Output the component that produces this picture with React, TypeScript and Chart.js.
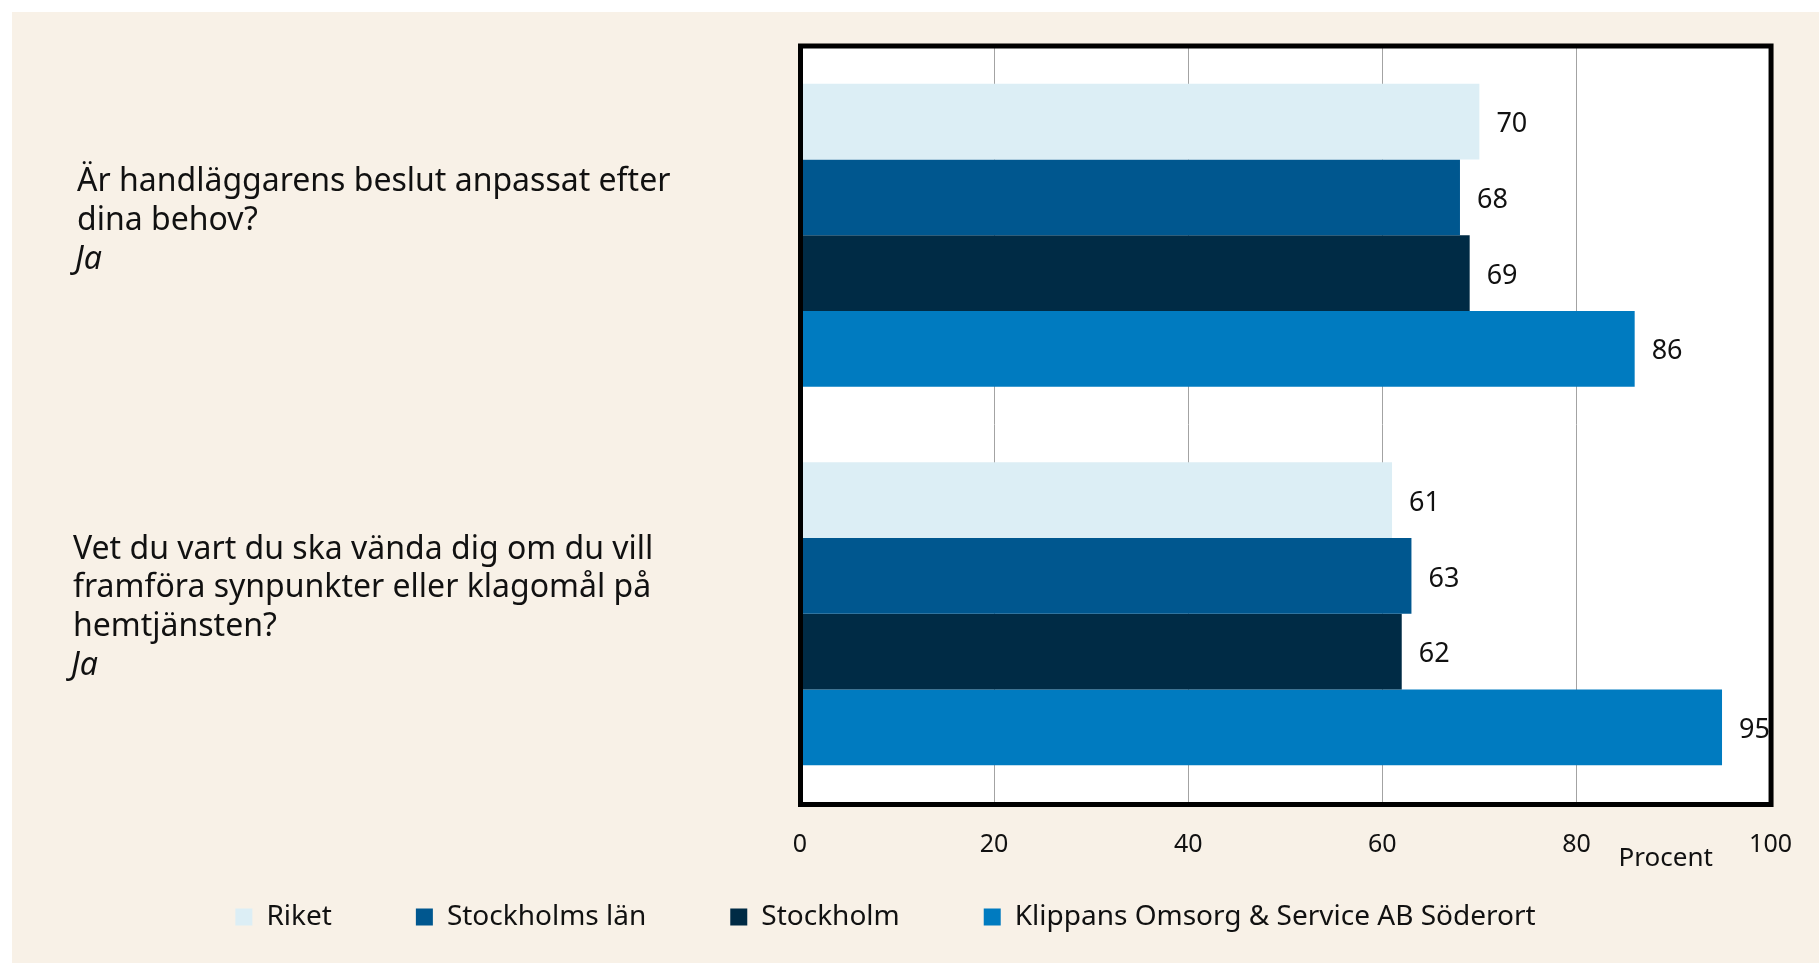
import React, { useEffect, useRef } from "react";
import { Chart, registerables } from "chart.js";

Chart.register(...registerables);

const categories = [
  ["Är handläggarens beslut anpassat efter", "dina behov?"],
  ["Vet du vart du ska vända dig om du vill", "framföra synpunkter eller klagomål på", "hemtjänsten?"],
];
const answerLabel = "Ja";
const seriesNames = ["Riket", "Stockholms län", "Stockholm", "Klippans Omsorg & Service AB Söderort"];
const riket = [70, 61];
const stockholmsLan = [68, 63];
const stockholm = [69, 62];
const klippans = [86, 95];
const seriesColors = ["#DCEEF5", "#00578F", "#002B45", "#007BC0"];
const xTicks = [0, 20, 40, 60, 80, 100];
const unitLabel = "Procent";

const FONT = "'Noto Sans', 'Open Sans', sans-serif";

export default function App() {
  const ref = useRef<HTMLCanvasElement | null>(null);

  useEffect(() => {
    const canvas = ref.current;
    if (!canvas) return;

    const bgPlugin = {
      id: "bg",
      beforeDraw(chart: any) {
        const { ctx, chartArea, width, height } = chart;
        ctx.save();
        ctx.fillStyle = "#ffffff";
        ctx.fillRect(0, 0, width, height);
        ctx.fillStyle = "#F8F1E7";
        ctx.fillRect(12, 12, width - 12, height - 12);
        ctx.fillStyle = "#ffffff";
        ctx.fillRect(chartArea.left, chartArea.top, chartArea.right - chartArea.left, chartArea.bottom - chartArea.top);
        ctx.restore();
      },
    };

    const legendShift = {
      id: "legendShift",
      afterLayout(chart: any) {
        const lg = chart.legend;
        if (lg) {
          const h = lg.bottom - lg.top;
          lg.top = 819;
          lg.bottom = 819 + h;
        }
      },
    };

    const overlayPlugin = {
      id: "overlay",
      afterDatasetsDraw(chart: any) {
        const { ctx, chartArea } = chart;
        ctx.save();
        // frame
        ctx.strokeStyle = "#000000";
        ctx.lineWidth = 5;
        ctx.strokeRect(chartArea.left + 0.5, chartArea.top, chartArea.right - chartArea.left, chartArea.bottom - chartArea.top + 1.5);

        // value labels
        ctx.fillStyle = "#111111";
        ctx.font = `27px ${FONT}`;
        ctx.textAlign = "left";
        ctx.textBaseline = "middle";
        chart.data.datasets.forEach((ds: any, di: number) => {
          const meta = chart.getDatasetMeta(di);
          meta.data.forEach((bar: any, i: number) => {
            ctx.fillText(String(ds.data[i]), bar.x + 17, bar.y + 3);
          });
        });

        // category labels
        const yScale = chart.scales.y;
        const lineH = 38.9;
        const offsets = [-14, -6];
        const lefts = [77, 73];
        categories.forEach((lines, i) => {
          const all = lines.length + 1;
          const center = yScale.getPixelForValue(i) + offsets[i];
          const top = center - (all * lineH) / 2 + lineH / 2;
          ctx.textAlign = "left";
          ctx.textBaseline = "middle";
          ctx.font = `32px ${FONT}`;
          lines.forEach((t, k) => {
            ctx.fillText(t, lefts[i], top + k * lineH);
          });
          ctx.font = `italic 32px ${FONT}`;
          ctx.fillText(answerLabel, lefts[i] - 2, top + lines.length * lineH);
        });

        // unit label
        const xScale = chart.scales.x;
        ctx.font = `26px ${FONT}`;
        ctx.textAlign = "center";
        ctx.fillText(unitLabel, xScale.getPixelForValue(89.2), chartArea.bottom + 56);
        ctx.restore();
      },
    };

    const datasets = [riket, stockholmsLan, stockholm, klippans].map((d, i) => ({
      label: seriesNames[i],
      data: d,
      backgroundColor: seriesColors[i],
      borderWidth: 0,
      categoryPercentage: 0.8,
      barPercentage: 1.0,
    }));

    const chart = new Chart(canvas, {
      type: "bar",
      data: {
        labels: categories.map((c) => c.join(" ")),
        datasets,
      },
      plugins: [bgPlugin, legendShift, overlayPlugin],
      options: {
        indexAxis: "y",
        responsive: false,
        animation: false,
        maintainAspectRatio: false,
        layout: { padding: { top: 46, right: 48, left: 0, bottom: -19 } },
        scales: {
          x: {
            min: 0,
            max: 100,
            afterBuildTicks(scale: any) {
              scale.ticks = xTicks.map((v) => ({ value: v }));
            },
            afterFit(scale: any) {
              scale.height = 57;
            },
            grid: { color: "#A3A3A3", lineWidth: 1, drawTicks: false },
            border: { display: false },
            ticks: {
              padding: 27,
              color: "#111111",
              font: { family: FONT, size: 25 },
            },
          },
          y: {
            afterFit(scale: any) {
              scale.width = 800;
            },
            grid: { display: false },
            border: { display: false },
            ticks: { display: false },
          },
        },
        plugins: {
          legend: {
            position: "bottom",
            labels: {
              boxWidth: 17,
              boxHeight: 17,
              padding: 84,
              color: "#111111",
              font: { family: FONT, size: 28 },
            },
          },
          tooltip: { enabled: false },
        },
      },
    });

    return () => chart.destroy();
  }, []);

  return (
    <div style={{ position: "absolute", left: 0, top: 0, width: 1819, height: 963 }}>
      <canvas ref={ref} width={1819} height={963} style={{ width: 1819, height: 963, display: "block" }} />
    </div>
  );
}
